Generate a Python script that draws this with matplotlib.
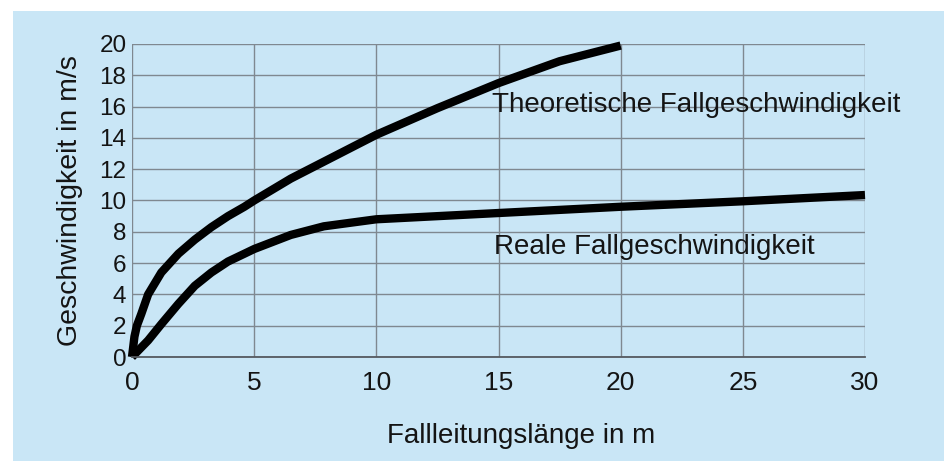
import matplotlib
matplotlib.use("Agg")
import matplotlib.pyplot as plt
from matplotlib.patches import Rectangle

theo_x = [0, 0.1, 0.2, 0.38, 0.66, 1.2, 1.9, 2.57, 3.25, 3.93, 4.6, 5, 6.5, 7.5, 10, 12.5, 15, 17.5, 20]
theo_y = [0, 1.3, 2.0, 2.75, 4.0, 5.4, 6.6, 7.5, 8.3, 9.0, 9.6, 10.0, 11.4, 12.2, 14.2, 15.9, 17.5, 18.9, 19.9]
real_x = [0, 0.66, 1.2, 1.9, 2.57, 3.25, 3.93, 4.6, 5, 6.5, 7.85, 10, 12.5, 15, 20, 25, 30]
real_y = [0, 1.06, 2.1, 3.4, 4.55, 5.4, 6.1, 6.6, 6.9, 7.8, 8.35, 8.8, 9.0, 9.2, 9.6, 9.95, 10.35]
x_ticks = [0, 5, 10, 15, 20, 25, 30]
y_ticks = [0, 2, 4, 6, 8, 10, 12, 14, 16, 18, 20]

plt.rcParams["font.family"] = ["Liberation Sans", "DejaVu Sans"]

bg = "#C9E6F6"
ink = "#141414"
fig = plt.figure(figsize=(9.49, 4.61), dpi=100)
fig.patch.set_facecolor("white")
fig.patches.append(Rectangle((13/949, 0), (944-13)/949, 1-11/461, transform=fig.transFigure,
                             facecolor=bg, edgecolor="none", zorder=-10))
ax = fig.add_axes([132/949, 1-357/461, (865-132)/949, (357-44)/461])
ax.set_zorder(1)
ax.set_facecolor(bg)
ax.set_xlim(0, 30)
ax.set_ylim(0, 20)
ax.set_xticks(x_ticks)
ax.set_yticks(y_ticks)
ax.grid(True, color="#7f8890", linewidth=1.0)
ax.set_axisbelow(True)
for s in ["top", "right", "left"]:
    ax.spines[s].set_visible(False)
ax.spines["bottom"].set_color("#555a60")
ax.spines["bottom"].set_linewidth(1.3)
ax.tick_params(axis="x", length=0, pad=10, labelsize=19, labelcolor=ink)
ax.tick_params(axis="y", length=0, pad=4, labelsize=17.5, labelcolor=ink)

ax.plot(theo_x, theo_y, color="black", linewidth=6, solid_capstyle="butt",
        solid_joinstyle="round", clip_on=False)
ax.plot(real_x, real_y, color="black", linewidth=6, solid_capstyle="butt",
        solid_joinstyle="round", clip_on=False)

ax.text(14.75, 16.1, "Theoretische Fallgeschwindigkeit", fontsize=20,
        va="center", ha="left", color=ink)
ax.text(14.8, 7.0, "Reale Fallgeschwindigkeit", fontsize=20,
        va="center", ha="left", color=ink)

ax.set_xlabel("Fallleitungslänge in m", fontsize=20, labelpad=20, color=ink)
ax.xaxis.label.set_x(0.531)
ax.set_ylabel("Geschwindigkeit in m/s", fontsize=20.5, labelpad=12, color=ink)

fig.savefig("out.png", dpi=100, facecolor="white")
